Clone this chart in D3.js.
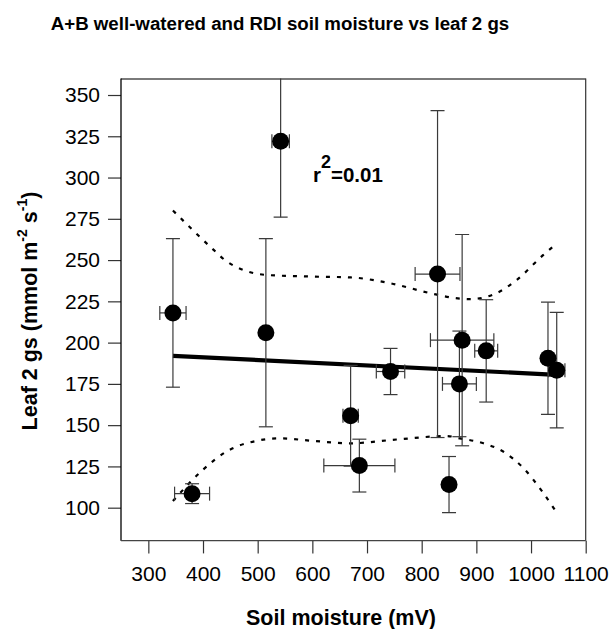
<!DOCTYPE html>
<html>
<head>
<meta charset="utf-8">
<script src="https://cdn.jsdelivr.net/npm/d3@7"></script>
<style>
  html, body { margin: 0; padding: 0; background: #fff; }
  svg { display: block; font-family: "Liberation Sans", Arial, sans-serif; }
</style>
</head>
<body>
<svg id="chart" width="613" height="629"></svg>
<script>
// Soil moisture (mV) and leaf 2 stomatal conductance, means with standard errors
const soilMoisture = [345, 380, 515, 542, 670, 686, 743, 829, 850, 869, 874, 918, 1031, 1047];
const soilMoistureErr = [24, 32, 0, 16, 14, 65, 26, 41, 0, 31, 58, 21, 0, 15];
const leafGs = [218, 108.5, 206, 322, 155.7, 125.5, 182.5, 241.5, 114, 175, 201.5, 195, 190.5, 183.3];
const leafGsErr = [45, 6, 57, 46, 30.5, 16, 14, 99, 17, 32, 64, 31, 34, 35];

// Linear fit
const fitX = [345, 1047];
const fitY = [192, 180.5];

// 95% confidence band
const bandUpperX = [345, 420, 440, 474, 516, 600, 670, 742, 815, 860, 888, 937, 974, 1022, 1047];
const bandUpperY = [280, 256, 250, 244, 241, 240, 239.5, 236, 230, 227, 226.3, 230, 238, 253, 260];
const bandLowerX = [345, 400, 443, 498, 541, 600, 669, 754, 846, 870, 913, 949, 986, 1020, 1047];
const bandLowerY = [104, 123, 134, 140.5, 142, 140.5, 139, 141.3, 143.4, 142, 139, 134, 124, 110, 97];

const xTicks = [300, 400, 500, 600, 700, 800, 900, 1000, 1100];
const yTicks = [100, 125, 150, 175, 200, 225, 250, 275, 300, 325, 350];

const fitLabel = "=0.01";

const svg = d3.select("#chart");
const plotLeft = 121, plotRight = 585.7, plotTop = 78.5, plotBottom = 540.7;

const x = d3.scaleLinear().domain([250, 1100]).range([plotLeft, plotRight]);
const y = d3.scaleLinear().domain([80, 360]).range([plotBottom, plotTop]);

svg.append("defs").append("clipPath").attr("id", "plotClip")
  .append("rect").attr("x", plotLeft).attr("y", plotTop)
  .attr("width", plotRight - plotLeft).attr("height", plotBottom - plotTop);

// Title
svg.append("text")
  .attr("x", 280).attr("y", 29.5)
  .attr("text-anchor", "middle")
  .attr("font-weight", "bold").attr("font-size", "18.7px")
  .text("A+B well-watered and RDI soil moisture vs leaf 2 gs");

// Axes
const yAxis = svg.append("g")
  .attr("transform", `translate(${plotLeft},0)`)
  .call(d3.axisLeft(y).tickValues(yTicks).tickFormat(d3.format("d"))
    .tickSize(13).tickPadding(8).tickSizeOuter(0));
const xAxis = svg.append("g")
  .attr("transform", `translate(0,${plotBottom})`)
  .call(d3.axisBottom(x).tickValues(xTicks).tickFormat(d3.format("d"))
    .tickSize(12.7).tickPadding(13).tickSizeOuter(0));

[yAxis, xAxis].forEach(g => {
  g.select(".domain").remove();
  g.selectAll(".tick line").attr("stroke", "#333").attr("stroke-width", 1.2);
  g.selectAll(".tick text").attr("fill", "#000").attr("font-size", "21px")
    .attr("font-family", "'Liberation Sans', Arial, sans-serif");
});

// Frame
svg.append("line").attr("x1", plotLeft).attr("x2", plotRight).attr("y1", plotTop + 0.5).attr("y2", plotTop + 0.5)
  .attr("stroke", "#7a7a7a").attr("stroke-width", 2);
svg.append("line").attr("x1", plotRight).attr("x2", plotRight).attr("y1", plotTop).attr("y2", plotBottom)
  .attr("stroke", "#333").attr("stroke-width", 1.2);
svg.append("line").attr("x1", plotLeft).attr("x2", plotLeft).attr("y1", plotTop).attr("y2", plotBottom)
  .attr("stroke", "#000").attr("stroke-width", 1.3);
svg.append("line").attr("x1", plotLeft).attr("x2", plotRight).attr("y1", plotBottom).attr("y2", plotBottom)
  .attr("stroke", "#444").attr("stroke-width", 1.2);

// Axis titles
svg.append("text")
  .attr("x", 341).attr("y", 625)
  .attr("text-anchor", "middle")
  .attr("font-weight", "bold").attr("font-size", "21.5px")
  .text("Soil moisture (mV)");

const yTitle = svg.append("text")
  .attr("transform", "translate(37,311) rotate(-90)")
  .attr("text-anchor", "middle")
  .attr("font-weight", "bold").attr("font-size", "21.5px");
yTitle.append("tspan").text("Leaf 2 gs (mmol m");
yTitle.append("tspan").attr("font-size", "14px").attr("dy", "-10").text("-2");
yTitle.append("tspan").attr("dy", "10").text(" s");
yTitle.append("tspan").attr("font-size", "14px").attr("dy", "-10").text("-1");
yTitle.append("tspan").attr("dy", "10").text(")");

const plot = svg.append("g").attr("clip-path", "url(#plotClip)");

// Confidence band
const bandLine = d3.line().x(d => x(d[0])).y(d => y(d[1])).curve(d3.curveMonotoneX);
[[bandUpperX, bandUpperY], [bandLowerX, bandLowerY]].forEach(([bx, by]) => {
  plot.append("path")
    .attr("d", bandLine(bx.map((v, i) => [v, by[i]])))
    .attr("fill", "none").attr("stroke", "#000")
    .attr("stroke-width", 2.2).attr("stroke-dasharray", "4,7");
});

// Fit line
plot.append("path")
  .attr("d", d3.line().x(d => x(d[0])).y(d => y(d[1]))(fitX.map((v, i) => [v, fitY[i]])))
  .attr("fill", "none").attr("stroke", "#000").attr("stroke-width", 4.2);

// Error bars
const cap = 7;
const eb = plot.append("g").attr("stroke", "#3a3a3a").attr("stroke-width", 1.2).attr("fill", "none");
soilMoisture.forEach((mx, i) => {
  const gy = leafGs[i], ey = leafGsErr[i], ex = soilMoistureErr[i];
  const cx = x(mx), cy = y(gy);
  // vertical
  eb.append("line").attr("x1", cx).attr("x2", cx).attr("y1", y(gy + ey)).attr("y2", y(gy - ey));
  eb.append("line").attr("x1", cx - cap).attr("x2", cx + cap).attr("y1", y(gy + ey)).attr("y2", y(gy + ey));
  eb.append("line").attr("x1", cx - cap).attr("x2", cx + cap).attr("y1", y(gy - ey)).attr("y2", y(gy - ey));
  // horizontal
  if (ex > 0) {
    eb.append("line").attr("x1", x(mx - ex)).attr("x2", x(mx + ex)).attr("y1", cy).attr("y2", cy);
    eb.append("line").attr("x1", x(mx - ex)).attr("x2", x(mx - ex)).attr("y1", cy - cap).attr("y2", cy + cap);
    eb.append("line").attr("x1", x(mx + ex)).attr("x2", x(mx + ex)).attr("y1", cy - cap).attr("y2", cy + cap);
  }
});

// Points
plot.append("g").selectAll("circle")
  .data(soilMoisture.map((v, i) => [v, leafGs[i]]))
  .join("circle")
  .attr("cx", d => x(d[0])).attr("cy", d => y(d[1]))
  .attr("r", 8.5).attr("fill", "#000");

// r² annotation
const r2 = svg.append("text")
  .attr("x", 313).attr("y", 181.5)
  .attr("font-weight", "bold").attr("font-size", "20.5px");
r2.append("tspan").text("r");
r2.append("tspan").attr("font-size", "18px").attr("dy", "-14").text("2");
r2.append("tspan").attr("dy", "14").text(fitLabel);
</script>
</body>
</html>
